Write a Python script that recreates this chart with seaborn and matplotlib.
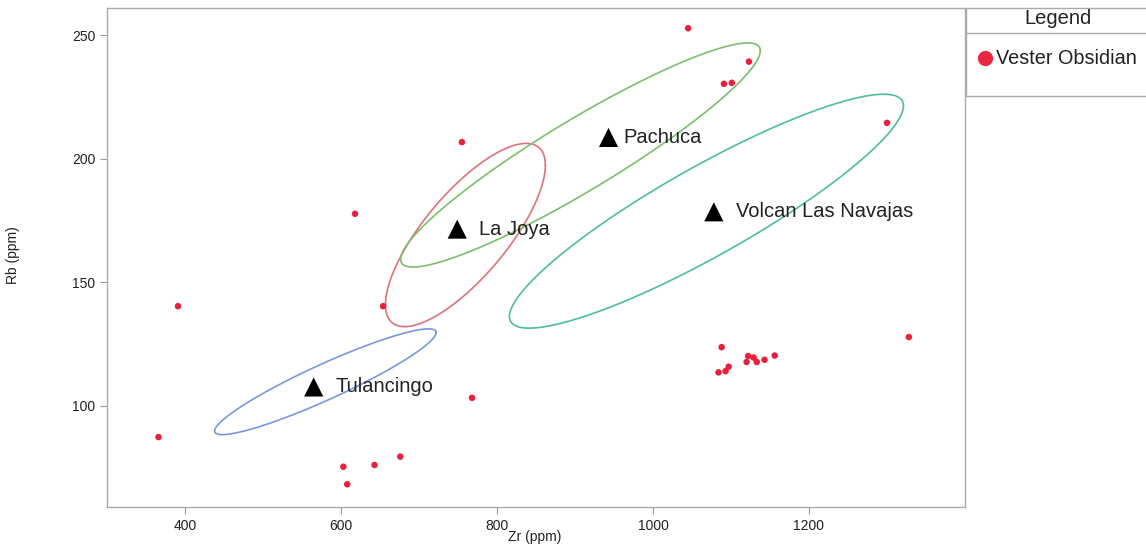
import numpy as np
import pandas as pd
import matplotlib
matplotlib.use("Agg")
import matplotlib.pyplot as plt
from matplotlib.lines import Line2D
from matplotlib.patches import Rectangle
import seaborn as sns

# Vester obsidian samples (Zr, Rb in ppm)
zr = [1045, 1123, 1091, 1101, 1300, 755, 618, 654, 391, 366, 768, 603, 643, 676, 608,
      1088, 1084, 1093, 1097, 1122, 1120, 1129, 1133, 1143, 1156, 1328]
rb = [252.8, 239.3, 230.3, 230.7, 214.5, 206.7, 177.7, 140.3, 140.3, 87.3, 103.2, 75.3, 76.0, 79.4, 68.2,
      123.7, 113.5, 114.0, 115.8, 120.1, 117.7, 119.5, 117.7, 118.6, 120.3, 127.8]

# source means
sources = ["Tulancingo", "La Joya", "Pachuca", "Volcan Las Navajas"]
src_zr = [565, 749, 943, 1078]
src_rb = [107.6, 171.5, 208.6, 178.5]

# source ellipses: centre, half-range in x and y, correlation
ell_cx = [580, 759.5, 907, 1068.5]
ell_cy = [109.7, 169.1, 201.5, 178.75]
ell_sx = [142, 102.5, 230.6, 252.6]
ell_sy = [21.4, 37.1, 45.35, 47.35]
ell_rho = [0.93, 0.76, 0.93, 0.90]
ell_colors = ["#7b97dc", "#e0707c", "#7cbf6a", "#4dbf98"]

sns.set_style("white")
plt.rcParams["font.family"] = ["Liberation Sans", "DejaVu Sans"]

fig = plt.figure(figsize=(11.46, 5.56), dpi=100)
ax = fig.add_axes([107 / 1146, 1 - 507 / 556, (965 - 107) / 1146, (507 - 8) / 556])

t = np.linspace(0, 2 * np.pi, 400)
for cx, cy, sx, sy, r, c in zip(ell_cx, ell_cy, ell_sx, ell_sy, ell_rho, ell_colors):
    ex = cx + sx * np.cos(t)
    ey = cy + sy * (r * np.cos(t) + np.sqrt(1 - r ** 2) * np.sin(t))
    ax.plot(ex, ey, color=c, lw=1.2)

samples = pd.DataFrame({"Zr": zr, "Rb": rb})
sns.scatterplot(data=samples, x="Zr", y="Rb", color="#e8203c", s=22, edgecolor="none", ax=ax, zorder=3)

src = pd.DataFrame({"Zr": src_zr, "Rb": src_rb, "name": sources})
sns.scatterplot(data=src, x="Zr", y="Rb", marker="^", color="black", s=190, edgecolor="none", ax=ax, zorder=4)
offsets = [16, 16, 11, 16]
for name, x, y, off in zip(sources, src_zr, src_rb, offsets):
    ax.annotate(name, (x, y), xytext=(off, 0), textcoords="offset points",
                va="center", ha="left", fontsize=14.5, color="#222222")

ax.set_xlim(300, 1400)
ax.set_ylim(59, 261)
ax.set_xticks([400, 600, 800, 1000, 1200])
ax.set_xticks([300, 500, 700, 900, 1100, 1300, 1400], minor=True)
ax.set_yticks([100, 150, 200, 250])
ax.set_yticks([75, 125, 175, 225], minor=True)
ax.tick_params(which="both", direction="out", color="#999999", labelsize=10, labelcolor="#222222")
ax.tick_params(which="major", length=5, width=0.8)
ax.tick_params(which="minor", length=3, width=0.8)
ax.tick_params(axis="x", bottom=True)
ax.tick_params(axis="y", left=True)
for sp in ax.spines.values():
    sp.set_color("#aaaaaa")
    sp.set_linewidth(1.0)
ax.set_xlabel("Zr (ppm)", fontsize=10, color="#222222")
ax.set_ylabel("Rb (ppm)", fontsize=10, color="#222222")
ax.xaxis.set_label_coords(0.498, -0.046)
ax.yaxis.set_label_coords(-0.101, 0.505)

# legend box on the right
W, H = 1146, 556
fig.patches.append(Rectangle((966 / W, 1 - 96 / H), (1150 - 966) / W, (96 - 8) / H,
                             transform=fig.transFigure, fill=False, edgecolor="#aaaaaa", lw=1.0))
fig.lines.append(Line2D([966 / W, 1], [1 - 33 / H] * 2, transform=fig.transFigure, color="#aaaaaa", lw=1.0))
fig.text(1058 / W, 1 - 19 / H, "Legend", ha="center", va="center", fontsize=14.5, color="#222222")
fig.lines.append(Line2D([985 / W], [1 - 58 / H], transform=fig.transFigure, marker="o", ms=11,
                        color="#e8293f", mec="none", ls="none"))
fig.text(996 / W, 1 - 58 / H, "Vester Obsidian", ha="left", va="center", fontsize=14.3, color="#222222")

fig.savefig("out.png", dpi=100)
